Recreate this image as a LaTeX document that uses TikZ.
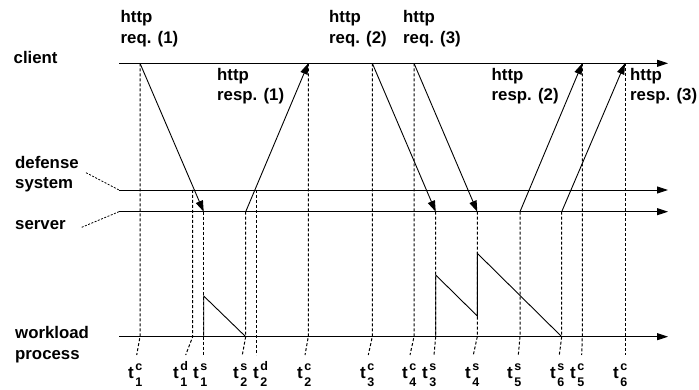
\documentclass[tikz,border=0pt]{standalone}
\usepackage{fontspec}
\setmainfont{Liberation Sans}
\usetikzlibrary{arrows.meta}
\newcommand{\mytlab}[2]{t\hspace{1.5pt}\rlap{\raisebox{8pt}{\fontsize{12.5}{12.5}\selectfont #1}}\raisebox{-8.5pt}{\fontsize{12.5}{12.5}\selectfont #2}}
\begin{document}
\begin{tikzpicture}[x=1pt,y=-1pt,
  lbl/.style={font=\fontsize{16.8}{20.7}\selectfont\bfseries, inner sep=0pt, anchor=base west, align=left},
  tlb/.style={font=\fontsize{17}{18}\selectfont\bfseries, inner sep=0pt, anchor=base west},
  axis/.style={line width=0.9pt, -{Triangle[length=11pt,width=7pt]}},
  msg/.style={line width=0.9pt, -{Triangle[length=11pt,width=7.5pt]}},
  tick/.style={line width=1pt, dash pattern=on 3pt off 2pt},
  lead/.style={line width=0.8pt, dash pattern=on 2pt off 1.5pt},
  load/.style={line width=0.9pt}]
\useasboundingbox (0,0) rectangle (699,390);
% axes
\coordinate (cl0) at (119,63.3);   \coordinate (cl1) at (668,63.3);
\coordinate (df0) at (119,190);    \coordinate (df1) at (668,190);
\coordinate (sv0) at (119,211.7);  \coordinate (sv1) at (668,211.7);
\coordinate (wl0) at (119,336.7);  \coordinate (wl1) at (668,336.7);
\draw[axis] (cl0) -- (cl1);
\draw[axis] (df0) -- (df1);
\draw[axis] (sv0) -- (sv1);
\draw[axis] (wl0) -- (wl1);
% left labels (base = baseline of last line)
\node[lbl] (client) at (13.5,64) {client};
\node[lbl] (defense) at (15,189) {defense\\system};
\node[lbl] (server) at (15,230) {server};
\node[lbl] (workload) at (15,359) {workload\\process};
\coordinate (dfl) at (86,172.7);
\coordinate (svl) at (81.7,227.3);
\draw[lead] (dfl) -- (df0);
\draw[lead] (svl) -- (sv0);
% message labels
\node[lbl] (rq1) at (120.5,43.3) {http\\req. (1)};
\node[lbl] (rq2) at (329,43.3) {http\\req. (2)};
\node[lbl] (rq3) at (403,43.3) {http\\req. (3)};
\node[lbl] (rs1) at (217,101) {http\\resp. (1)};
\node[lbl] (rs2) at (491.5,101) {http\\resp. (2)};
\node[lbl] (rs3) at (630,101) {http\\resp. (3)};
% event points
\coordinate (c1) at (140,63.3);   \coordinate (s1) at (203.7,211.7);
\coordinate (s2) at (245.7,211.7); \coordinate (c2) at (308.3,63.3);
\coordinate (c3) at (372.3,63.3); \coordinate (s3) at (435.7,211.7);
\coordinate (c4) at (414,63.3);   \coordinate (s4) at (477.3,211.7);
\coordinate (s5) at (520,211.7);  \coordinate (c5) at (582.3,63.3);
\coordinate (s6) at (561.7,211.7); \coordinate (c6) at (625,63.3);
\coordinate (d1) at (192.7,190);  \coordinate (d2) at (256.3,190);
% messages
\draw[msg] (c1) -- (s1);
\draw[msg] (s2) -- (c2);
\draw[msg] (c3) -- (s3);
\draw[msg] (c4) -- (s4);
\draw[msg] (s5) -- (c5);
\draw[msg] (s6) -- (c6);
% time labels
\node[tlb] (T1c) at (128,378) {\mytlab{c}{1}};
\node[tlb] (T1d) at (173,378) {\mytlab{d}{1}};
\node[tlb] (T1s) at (193,378) {\mytlab{s}{1}};
\node[tlb] (T2s) at (233,378) {\mytlab{s}{2}};
\node[tlb] (T2d) at (253,378) {\mytlab{d}{2}};
\node[tlb] (T2c) at (297,378) {\mytlab{c}{2}};
\node[tlb] (T3c) at (360,378) {\mytlab{c}{3}};
\node[tlb] (T4c) at (402,378) {\mytlab{c}{4}};
\node[tlb] (T3s) at (422,378) {\mytlab{s}{3}};
\node[tlb] (T4s) at (465,378) {\mytlab{s}{4}};
\node[tlb] (T5s) at (507,378) {\mytlab{s}{5}};
\node[tlb] (T6s) at (550,378) {\mytlab{s}{6}};
\node[tlb] (T5c) at (570,378) {\mytlab{c}{5}};
\node[tlb] (T6c) at (613,378) {\mytlab{c}{6}};
% tick ends
\coordinate (e1c) at (136.7,355); \coordinate (e1d) at (185.7,355);
\coordinate (e1s) at (203.7,355); \coordinate (e2s) at (242.3,355);
\coordinate (e2d) at (256.3,355); \coordinate (e2c) at (305,355);
\coordinate (e3c) at (368.3,355); \coordinate (e4c) at (410,355);
\coordinate (e3s) at (434,355);   \coordinate (e4s) at (473.3,355);
\coordinate (e5s) at (518.3,355); \coordinate (e6s) at (559.3,355);
\coordinate (e5c) at (581.7,355); \coordinate (e6c) at (625,355);
% dashed time ticks
\draw[tick] (c1) -- (c1 |- wl0) -- (e1c);
\draw[tick] (d1) -- (d1 |- wl0) -- (e1d);
\draw[tick] (s1) -- (e1s);
\draw[tick] (s2) -- (s2 |- wl0) -- (e2s);
\draw[tick] (d2) -- (e2d);
\draw[tick] (c2) -- (c2 |- wl0) -- (e2c);
\draw[tick] (c3) -- (c3 |- wl0) -- (e3c);
\draw[tick] (c4) -- (c4 |- wl0) -- (e4c);
\draw[tick] (s3) -- (s3 |- wl0) -- (e3s);
\draw[tick] (s4) -- (s4 |- wl0) -- (e4s);
\draw[tick] (s5) -- (s5 |- wl0) -- (e5s);
\draw[tick] (s6) -- (s6 |- wl0) -- (e6s);
\draw[tick] (c5) -- (c5 |- wl0) -- (e5c);
\draw[tick] (c6) -- (e6c);
% workload sawtooth
\coordinate (w1) at (203.7,336.7); \coordinate (p1) at (203.7,296);
\coordinate (w2) at (245.7,336.7);
\coordinate (w3) at (435.7,336.7); \coordinate (p3) at (435.7,275);
\coordinate (v4) at (477.3,316);   \coordinate (p4) at (477.3,253.3);
\coordinate (w6) at (561.7,336.7);
\draw[load] (w1) -- (p1) -- (w2);
\draw[load] (w3) -- (p3) -- (v4) -- (p4) -- (w6);
\end{tikzpicture}
\end{document}
